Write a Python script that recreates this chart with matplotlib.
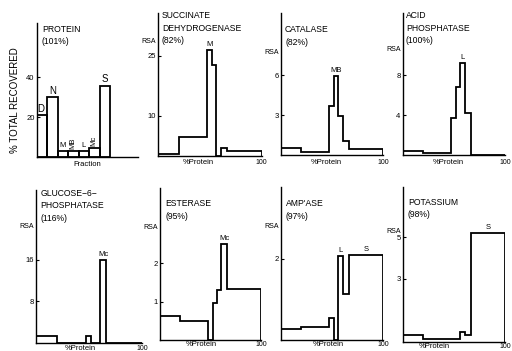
import numpy as np
import matplotlib
matplotlib.use('Agg')
import matplotlib.pyplot as plt

plt.rcParams['font.family'] = ['Liberation Sans', 'DejaVu Sans']

fractions = ['D', 'N', 'M', 'MB', 'L', 'Mc', 'S']
# protein panel: % of total recovered per fraction
protein_pct = [21, 30, 3.2, 3.2, 3.2, 4.7, 35.7]
# width of each fraction block on the % protein axis
frac_width = [20, 27.5, 4.5, 4, 4.5, 6, 33.5]

succinate = [0.5, 4.7, 26.5, 22.7, 0.0, 2.1, 1.3]
catalase = [0.55, 0.25, 3.7, 5.95, 2.9, 1.05, 0.43]
acid_phos = [0.4, 0.17, 3.67, 6.8, 9.2, 4.2, 0.05]
glucose6p = [1.25, 0.0, 1.25, 0.0, 0.0, 16.0, 0.0]
esterase = [0.63, 0.49, 0.0, 0.97, 1.29, 2.5, 1.33]
ampase = [0.25, 0.3, 0.52, 0.0, 2.06, 1.12, 2.1]
potassium = [0.3, 0.13, 0.13, 0.13, 0.45, 0.3, 5.2]

panels = [
    ('SUCCINATE\nDEHYDROGENASE\n(82%)', succinate, [10, 25], ['M']),
    ('CATALASE\n(82%)', catalase, [3, 6], ['MB']),
    ('ACID\nPHOSPHATASE\n(100%)', acid_phos, [4, 8], ['L']),
    ('GLUCOSE\u22126\u2212\nPHOSPHATASE\n(116%)', glucose6p, [8, 16], ['Mc']),
    ('ESTERASE\n(95%)', esterase, [1, 2], ['Mc']),
    ("AMP'ASE\n(97%)", ampase, [2], ['L', 'S']),
    ('POTASSIUM\n(98%)', potassium, [3, 5], ['S']),
]

# layout in pixels: x0, x1, top, base, ytop, title x, title cap top, RSA frac, %Protein frac
layout = [
    (158.3, 261.7, 13, 156, 35.7, 162, 12.7, 0.80, 0.39),
    (281, 383, 13, 155, 10.65, 285, 26.7, 0.725, 0.44),
    (402.7, 505, 13, 155, 14.2, 406, 12.7, 0.74, 0.45),
    (36, 142, 190, 343, 29.4, 40.7, 190, 0.76, 0.42),
    (160, 261, 188, 340, 3.95, 165.7, 200.7, 0.74, 0.41),
    (281, 383, 187, 339.5, 3.77, 286, 200.7, 0.74, 0.46),
    (402.7, 505, 187, 341.7, 7.4, 408, 199.3, 0.71, 0.31),
]

W, H = 512, 351
fig = plt.figure(figsize=(W / 100, H / 100), dpi=100)

TITLE_FS = 6.2
TITLE_LS = 1.5


def px_axes(x0, x1, top, base):
    return fig.add_axes([x0 / W, 1 - base / H, (x1 - x0) / W, (base - top) / H])


def style(ax):
    for s in ['top', 'right']:
        ax.spines[s].set_visible(False)
    for s in ['left', 'bottom']:
        ax.spines[s].set_linewidth(1.0)
    ax.tick_params(axis='y', direction='in', length=2, width=0.8, labelsize=5.5, pad=1.5)
    ax.tick_params(axis='x', length=0, labelsize=5, pad=2)


edges = np.concatenate([[0], np.cumsum(frac_width)])
centers = (edges[:-1] + edges[1:]) / 2

# protein panel
ax = px_axes(36.7, 138, 23, 157)
style(ax)
xb = np.arange(len(fractions))
ax.bar(xb, protein_pct, width=1, align='edge', fill=False, edgecolor='black', linewidth=1.3)
ax.set_xlim(0, 7 * (138 - 36.7) / (110 - 36.7))
ax.set_ylim(0, (157 - 23) / 2)
ax.set_yticks([20, 40])
ax.set_xticks([])
for i, (lab, v) in enumerate(zip(fractions, protein_pct)):
    rot = 90 if lab in ('MB', 'Mc') else 0
    fs = 7 if lab in ('D', 'N', 'S') else 5.5
    ax.annotate(lab, xy=(i + 0.5 - (0.15 if lab == 'D' else 0), v), xytext=(0, 1.5),
                textcoords='offset pixels', ha='center', va='bottom', rotation=rot, fontsize=fs)
fig.text(42 / W, 1 - 24.5 / H, 'PROTEIN\n(101%)', fontsize=TITLE_FS, va='top', ha='left',
         linespacing=TITLE_LS)
ax.annotate('Fraction', xy=(0.5, 0), xycoords='axes fraction', xytext=(0, -7),
            textcoords='offset pixels', ha='center', va='center', fontsize=5.5)
fig.text(15 / W, 1 - 100 / H, '% TOTAL RECOVERED', rotation=90, fontsize=7, ha='center', va='center')

for (title, vals, yt, peaks), (x0, x1, top, base, ytop, tx, ty, rsa_y, prot_x) in zip(panels, layout):
    ax = px_axes(x0, x1, top, base)
    style(ax)
    ax.stairs(vals, edges, baseline=0, color='black', linewidth=1.3)
    ax.set_xlim(0, 100)
    ax.set_ylim(0, ytop)
    ax.set_yticks(yt)
    ax.set_xticks([])
    off = -7 if base < 200 else -5
    ax.annotate('100', xy=(1, 0), xycoords='axes fraction', xytext=(0, off),
                textcoords='offset pixels', ha='center', va='center', fontsize=5)
    ax.annotate('%Protein', xy=(prot_x, 0), xycoords='axes fraction', xytext=(0, off),
                textcoords='offset pixels', ha='center', va='center', fontsize=5.5)
    ax.annotate('RSA', xy=(0, rsa_y), xycoords='axes fraction', xytext=(-2, 0),
                textcoords='offset pixels', ha='right', va='center', fontsize=5)
    for p in peaks:
        i = fractions.index(p)
        ax.annotate(p, xy=(centers[i], vals[i]), xytext=(0, 2), textcoords='offset pixels',
                    ha='center', va='bottom', fontsize=5.5)
    fig.text(tx / W, 1 - (ty - 1.5) / H, title, fontsize=TITLE_FS, va='top', ha='left',
             linespacing=TITLE_LS)

fig.savefig('out.png', dpi=100)
